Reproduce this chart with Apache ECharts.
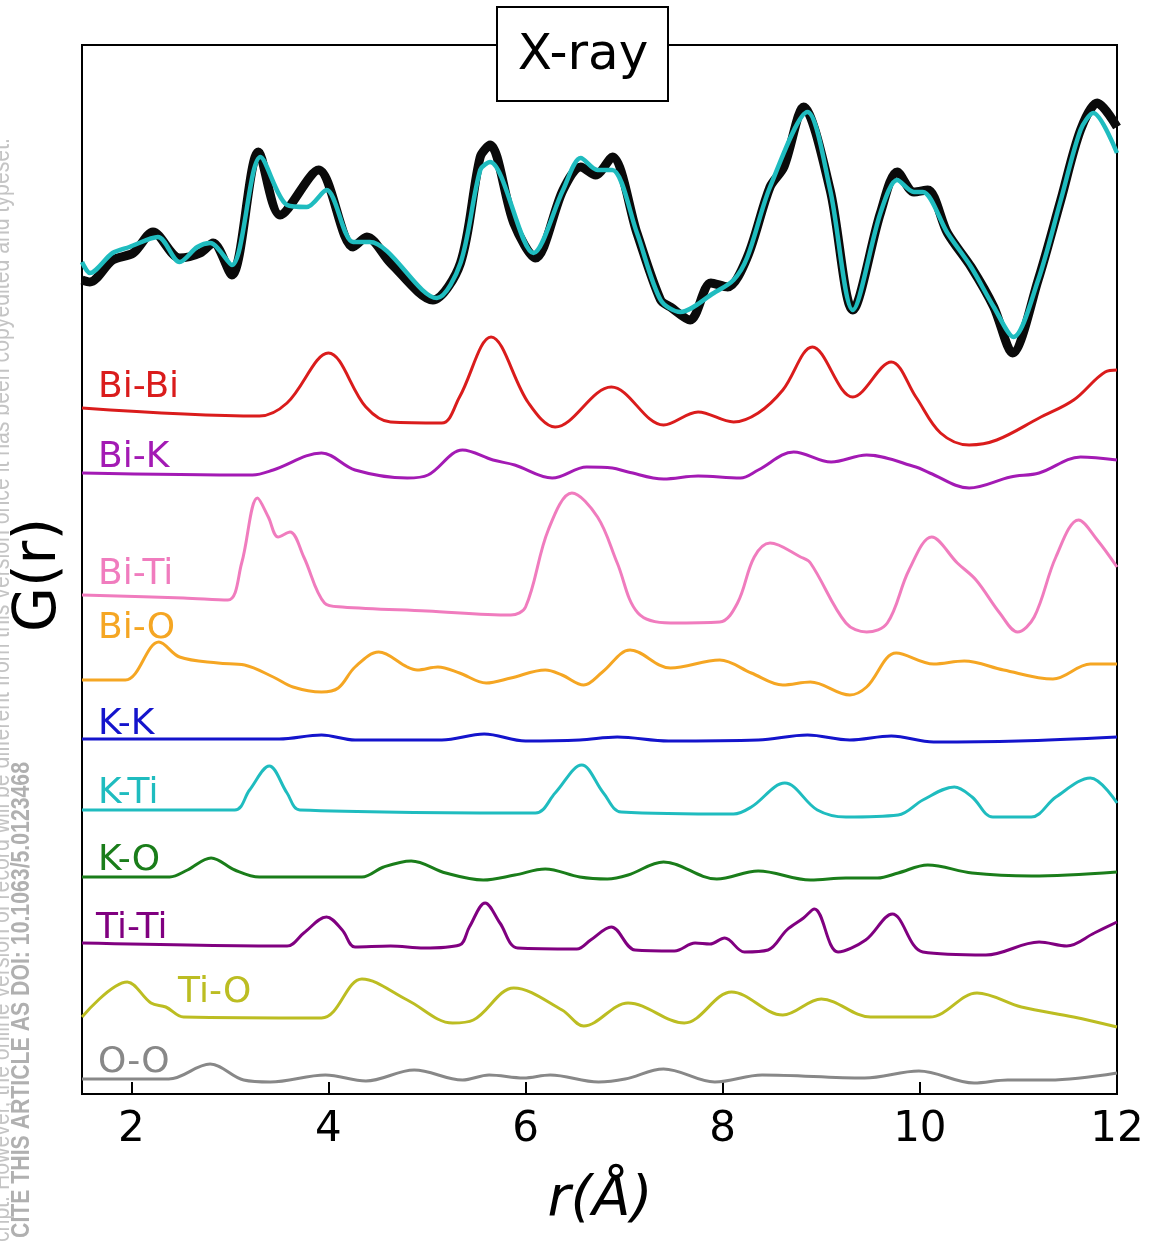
<!DOCTYPE html>
<html><head><meta charset="utf-8">
<script src="https://cdn.jsdelivr.net/npm/echarts@6/dist/echarts.min.js"></script>
<style>html,body{margin:0;padding:0;background:#fff}#c{width:1149px;height:1241px}</style>
</head><body><div id="c"></div>
<script>
// ---- data (r in Å, G(r) with vertical offsets as plotted) ----
const xTicks = [2, 4, 6, 8, 10, 12];

const expR = [1.5,1.58,1.81,2.02,2.22,2.49,2.70,2.83,3.02,3.29,3.51,3.90,4.25,4.39,4.63,5.06,5.34,5.54,5.64,5.88,6.10,6.38,6.56,6.71,6.88,7.13,7.37,7.47,7.67,7.88,8.05,8.25,8.48,8.62,8.82,9.09,9.32,9.60,9.77,9.94,10.08,10.28,10.52,10.75,10.94,11.20,11.43,11.63,11.80,12.0];
const expG = [81.4,81.2,83.4,84.1,86.2,83.6,84.1,85.1,81.9,94.2,87.9,92.4,84.7,85.7,83.1,79.4,83.1,93.7,94.9,87.1,83.6,90.4,92.7,91.9,93.7,86.1,79.4,78.7,77.4,81.1,80.7,83.7,90.7,92.7,98.7,90.4,78.4,88.1,92.2,90.2,90.4,86.1,82.7,78.7,74.1,81.4,89.4,96.4,99.1,96.7];

const fitR = [1.5,1.58,1.81,1.98,2.27,2.49,2.67,2.80,3.02,3.31,3.58,3.78,3.98,4.25,4.42,5.10,5.34,5.54,5.64,6.08,6.38,6.56,6.73,6.88,7.13,7.37,7.57,7.91,8.11,8.25,8.48,8.86,9.09,9.32,9.60,9.77,9.94,10.03,10.28,10.52,10.75,10.95,11.20,11.43,11.63,11.76,12.0];
const fitG = [83.2,82.1,84.1,84.7,85.7,83.2,84.7,85.1,82.9,93.7,88.9,88.7,90.4,85.2,85.2,79.6,83.1,92.4,93.2,84.1,90.4,93.6,92.4,92.4,86.1,79.4,78.2,80.1,81.4,83.7,90.7,98.2,90.4,78.4,88.1,91.4,90.2,90.2,86.1,82.7,78.7,75.7,81.4,89.4,96.4,98.1,94.1];

const biBiR = [1.5,3.3,3.58,4.0,4.38,4.63,5.15,5.33,5.65,6.03,6.3,6.87,7.4,7.75,8.11,8.36,8.61,8.91,9.32,9.71,9.96,10.21,10.5,10.78,11.21,11.56,11.88,12.0];
const biBiG = [68.6,67.8,69.1,74.1,68.7,67.2,67.1,69.7,75.7,69.1,66.7,70.7,66.9,68.2,67.2,68.1,70.4,74.7,69.7,73.2,69.7,66.1,64.9,65.4,67.6,69.4,72.2,72.4];

const biKR = [1.5,3.23,3.44,3.93,4.27,4.8,5.01,5.36,5.67,5.89,6.27,6.62,6.88,7.04,7.4,7.75,8.18,8.36,8.72,9.1,9.46,9.96,10.1,10.5,10.92,11.21,11.63,12.0];
const biKG = [62.1,61.9,62.4,64.1,62.4,61.6,61.9,64.4,63.4,62.9,61.6,62.7,62.6,62.2,61.5,61.8,61.6,62.4,64.2,63.2,63.9,62.7,62.1,60.6,61.7,62.1,63.7,63.4];

const biTiR = [1.5,2.53,2.98,3.12,3.28,3.39,3.49,3.61,3.75,3.96,4.14,5.0,5.85,6.0,6.23,6.47,6.73,6.93,7.14,7.47,7.97,8.15,8.32,8.48,8.79,8.89,9.25,9.46,9.67,9.89,10.12,10.38,10.57,10.81,10.99,11.16,11.38,11.61,11.80,12.0];
const biTiG = [49.9,49.6,49.4,53.1,59.6,57.7,55.7,56.2,53.7,49.1,48.7,48.3,47.9,48.7,56.4,60.1,57.7,53.1,48.1,47.1,47.2,49.1,53.7,55.1,53.7,53.1,47.1,46.2,47.1,52.4,55.7,53.1,51.4,48.1,46.2,47.7,53.7,57.4,55.4,52.7];

const biOR = [1.5,1.94,2.28,2.49,2.88,3.15,3.44,3.64,3.93,4.10,4.27,4.51,4.80,4.90,5.11,5.33,5.60,5.85,6.20,6.37,6.59,6.78,7.06,7.47,7.97,8.29,8.61,8.89,9.29,9.46,9.76,10.14,10.45,10.85,11.35,11.73,12.0];
const biOG = [41.4,41.4,45.2,43.7,43.1,42.9,41.7,40.7,40.2,40.6,42.7,44.2,42.7,42.4,42.7,42.1,41.1,41.6,42.4,41.9,40.9,42.2,44.4,42.6,43.4,42.1,40.9,41.2,39.9,40.7,44.1,43.0,43.3,42.4,41.5,43.0,43.0];

const kKR = [1.5,3.5,3.93,4.27,5.15,5.58,6.0,6.55,6.93,7.45,8.36,8.86,9.29,9.71,10.14,11.0,12.0];
const kKG = [35.5,35.5,35.9,35.4,35.4,36.0,35.3,35.4,35.7,35.3,35.4,35.9,35.4,35.8,35.2,35.3,35.7];

const kTiR = [1.5,3.05,3.20,3.40,3.58,3.71,6.10,6.30,6.57,6.79,6.97,8.11,8.29,8.63,8.96,9.25,9.78,10.03,10.35,10.53,10.74,11.13,11.38,11.73,12.0];
const kTiG = [28.4,28.4,30.4,32.8,30.1,28.4,28.1,30.1,32.9,30.1,28.2,28.0,28.7,31.1,28.4,27.7,27.9,29.4,30.7,29.7,27.7,27.7,29.7,31.6,29.1];

const kOR = [1.5,2.39,2.57,2.81,3.05,3.30,4.34,4.56,4.84,5.19,5.57,5.89,6.20,6.55,6.83,7.04,7.40,7.94,8.36,8.89,9.25,9.57,9.78,10.08,10.53,11.13,12.0];
const kOG = [21.7,21.7,22.4,23.6,22.4,21.7,21.7,22.7,23.3,22.1,21.4,21.9,22.5,21.7,21.5,21.9,23.2,21.5,22.3,21.4,21.6,21.6,22.1,22.9,22.1,21.8,22.2];

const tiTiR = [1.5,3.58,3.75,3.98,4.14,4.27,4.63,4.97,5.33,5.43,5.59,5.74,5.92,6.52,6.66,6.87,7.11,7.51,7.72,7.87,8.02,8.22,8.46,8.65,8.82,8.93,9.17,9.45,9.72,10.03,10.67,11.21,11.49,11.77,12.0];
const tiTiG = [15.1,14.8,16.1,17.7,16.4,14.7,14.8,14.6,14.9,16.7,19.1,17.1,14.6,14.5,15.4,16.7,14.4,14.3,15.1,15.0,15.6,14.2,14.4,16.4,17.6,18.5,14.2,15.4,18.0,14.2,13.9,15.2,14.8,16.1,17.2];

const tiOR = [1.5,1.96,2.20,2.35,2.53,3.93,4.34,4.80,5.26,5.47,5.88,6.37,6.59,7.04,7.61,8.09,8.61,9.0,9.50,10.10,10.58,11.03,11.56,12.0];
const tiOG = [7.7,11.2,9.1,8.7,7.7,7.6,11.5,9.4,7.1,7.4,10.6,8.4,6.8,9.1,7.1,10.2,7.9,9.5,7.7,7.7,10.1,8.7,7.7,6.7];

const oOR = [1.5,2.38,2.80,3.14,3.41,3.97,4.38,4.87,5.36,5.63,5.98,6.25,6.74,7.01,7.40,7.92,8.40,9.44,9.99,10.55,10.89,11.31,12.0];
const oOG = [1.5,1.5,3.0,1.4,1.2,1.9,1.3,2.4,1.4,1.9,1.6,1.9,1.2,1.5,2.5,1.2,1.9,1.6,2.3,1.1,1.4,1.4,2.1];

const pairNames = ['Bi-Bi','Bi-K','Bi-Ti','Bi-O','K-K','K-Ti','K-O','Ti-Ti','Ti-O','O-O'];
const pairR = [biBiR,biKR,biTiR,biOR,kKR,kTiR,kOR,tiTiR,tiOR,oOR];
const pairG = [biBiG,biKG,biTiG,biOG,kKG,kTiG,kOG,tiTiG,tiOG,oOG];

// ---- styles ----
const pairColors = ['#da1c1c','#a31ab4','#f07cbe','#f5a623','#1414cc','#1fbcbf','#1a7d1a','#800080','#bcbd22','#888888'];
const labelPos = [[98,388],[98,458],[98,575],[98,629],[98,725],[98,794],[98,861],[96,929],[178,993],[98,1063]];
const FONT = 'DejaVu Sans';

function zip(r, g) { return r.map((v, i) => [v, g[i]]); }

const series = pairNames.map((n, i) => ({
  name: n, type: 'line', data: zip(pairR[i], pairG[i]), smooth: 0.35, symbol: 'none',
  lineStyle: { color: pairColors[i], width: 3 }, z: 2
}));
series.push({ name: 'exp', type: 'line', data: zip(expR, expG), smooth: 0.3, symbol: 'none',
  lineStyle: { color: '#0a0a0a', width: 9 }, z: 3 });
series.push({ name: 'fit', type: 'line', data: zip(fitR, fitG), smooth: 0.3, symbol: 'none',
  lineStyle: { color: '#1fbcbf', width: 4.5 }, z: 4 });

const graphics = pairNames.map((n, i) => ({
  type: 'text', x: labelPos[i][0], y: labelPos[i][1], z: 10,
  style: { text: n, fill: pairColors[i], font: '36px "' + FONT + '"', align: 'left', verticalAlign: 'middle' }
}));
graphics.push(
  { type: 'rect', shape: { x: 497, y: 7, width: 171, height: 94 }, style: { fill: '#fff', stroke: '#000', lineWidth: 2 }, z: 20 },
  { type: 'text', x: 583, y: 56, z: 21, style: { text: 'X-ray', font: '50px "' + FONT + '"', fill: '#000', align: 'center', verticalAlign: 'middle' } },
  { type: 'text', x: 600, y: 1200, z: 21, style: { text: 'r(Å)', font: 'italic 56px "' + FONT + '"', fill: '#000', align: 'center', verticalAlign: 'middle' } },
  { type: 'text', x: 40, y: 575, rotation: Math.PI / 2, z: 21, style: { text: 'G(r)', font: '58px "' + FONT + '"', fill: '#000', align: 'center', verticalAlign: 'middle' } },
  { type: 'text', x: 22, y: 762, rotation: Math.PI / 2, scaleX: 0.85, z: 21, style: { text: 'PLEASE CITE THIS ARTICLE AS DOI: 10.1063/5.0123468', font: 'bold 25px "Liberation Sans"', fill: '#b0b0b0', align: 'right', verticalAlign: 'middle' } },
  { type: 'text', x: 2, y: 138, rotation: Math.PI / 2, scaleX: 0.85, z: 21, style: { text: "This is the author's peer reviewed, accepted manuscript. However, the online version of record will be different from this version once it has been copyedited and typeset.", font: '25px "Liberation Sans"', fill: '#c4c4c4', align: 'right', verticalAlign: 'middle' } }
);

const chart = echarts.init(document.getElementById('c'), null, { renderer: 'canvas' });
chart.setOption({
  animation: false,
  backgroundColor: '#fff',
  grid: { left: 82, right: 32, top: 45, bottom: 147, show: true, borderColor: '#000', borderWidth: 2, backgroundColor: 'transparent' },
  xAxis: {
    type: 'value', min: 1.5, max: 12,
    axisLine: { show: true, lineStyle: { color: '#000', width: 2 } },
    axisTick: { show: true, inside: true, length: 12, customValues: xTicks, lineStyle: { color: '#000', width: 2 } },
    axisLabel: { show: true, customValues: xTicks, margin: 15, color: '#000', fontSize: 42, fontFamily: FONT },
    splitLine: { show: false }
  },
  yAxis: {
    type: 'value', min: 0, max: 104.9,
    axisLine: { show: false }, axisTick: { show: false }, axisLabel: { show: false }, splitLine: { show: false }
  },
  series: series,
  graphic: graphics
});
</script>
</body></html>
